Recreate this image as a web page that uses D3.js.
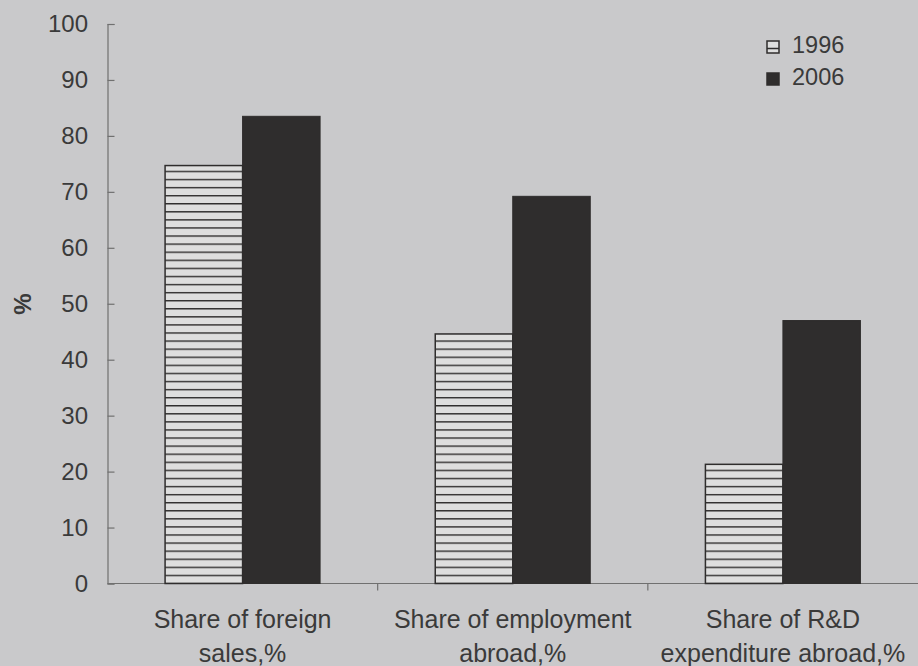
<!DOCTYPE html>
<html>
<head>
<meta charset="utf-8">
<script src="https://cdn.jsdelivr.net/npm/d3@7"></script>
<style>
  body { margin: 0; background: #c9c9cb; }
  svg { display: block; font-family: "Liberation Sans", Arial, sans-serif; }
</style>
</head>
<body>
<div id="chart-area"></div>
<script>
const categories = [
  ["Share of foreign", "sales,%"],
  ["Share of employment", "abroad,%"],
  ["Share of R&D", "expenditure abroad,%"]
];
const years = ["1996", "2006"];
const values1996 = [74.7, 44.6, 21.3];
const values2006 = [83.5, 69.2, 47.0];
const yTicks = [0, 10, 20, 30, 40, 50, 60, 70, 80, 90, 100];

const WIDTH = 918, HEIGHT = 666;
const MARGIN = { LEFT: 107.5, RIGHT: 0, TOP: 24, BOTTOM: 82.5 };
const TEXT = "#3a3a3a";
const AXIS = "#707070";
const DARK = "#2f2d2d";
const LIGHT = "#dedede";

const svg = d3.select("#chart-area").append("svg")
  .attr("width", WIDTH)
  .attr("height", HEIGHT);

const x = d3.scaleBand()
  .domain(d3.range(categories.length))
  .range([MARGIN.LEFT, WIDTH - MARGIN.RIGHT])
  .paddingInner(0).paddingOuter(0);

const y = d3.scaleLinear()
  .domain([0, 100])
  .range([HEIGHT - MARGIN.BOTTOM, MARGIN.TOP]);

const barW = 77.5;

// horizontal hatch pattern
const defs = svg.append("defs");
const pat = defs.append("pattern")
  .attr("id", "hatch")
  .attr("patternUnits", "userSpaceOnUse")
  .attr("width", 10)
  .attr("height", 8.08)
  .attr("patternTransform", `translate(0, ${y(0) - 0.7})`);
pat.append("rect").attr("width", 10).attr("height", 8.08).attr("fill", LIGHT);
pat.append("rect").attr("width", 10).attr("height", 1.4).attr("fill", DARK);

// y axis
const yAxis = d3.axisRight(y).tickValues(yTicks).tickSize(7).tickFormat("");
const gy = svg.append("g")
  .attr("transform", `translate(${MARGIN.LEFT}, 0)`)
  .call(yAxis);
gy.select(".domain").attr("stroke", AXIS).attr("stroke-width", 1.2);
gy.selectAll(".tick line").attr("stroke", AXIS).attr("stroke-width", 1.2);

svg.append("g").selectAll("text")
  .data(yTicks)
  .join("text")
  .attr("x", 88)
  .attr("y", d => y(d))
  .attr("dy", "0.35em")
  .attr("text-anchor", "end")
  .attr("font-size", 24)
  .attr("fill", TEXT)
  .text(d => d);

// x axis
svg.append("line")
  .attr("x1", MARGIN.LEFT).attr("x2", WIDTH)
  .attr("y1", y(0)).attr("y2", y(0))
  .attr("stroke", AXIS).attr("stroke-width", 1.2);

svg.append("g").selectAll("line")
  .data(d3.range(1, categories.length))
  .join("line")
  .attr("x1", d => x(d)).attr("x2", d => x(d))
  .attr("y1", y(0)).attr("y2", y(0) + 7)
  .attr("stroke", AXIS).attr("stroke-width", 1.2);

// bars
const groups = svg.append("g").selectAll("g")
  .data(categories.map((c, i) => ({ i, v1: values1996[i], v2: values2006[i] })))
  .join("g");

groups.append("rect")
  .attr("x", d => x(d.i) + x.bandwidth() / 2 - barW)
  .attr("y", d => y(d.v1))
  .attr("width", barW)
  .attr("height", d => y(0) - y(d.v1))
  .attr("fill", "url(#hatch)")
  .attr("stroke", DARK)
  .attr("stroke-width", 1.5);

groups.append("rect")
  .attr("x", d => x(d.i) + x.bandwidth() / 2)
  .attr("y", d => y(d.v2))
  .attr("width", barW)
  .attr("height", d => y(0) - y(d.v2))
  .attr("fill", DARK)
  .attr("stroke", DARK)
  .attr("stroke-width", 1);

// category labels
const labels = svg.append("g").selectAll("text")
  .data(categories)
  .join("text")
  .attr("text-anchor", "middle")
  .attr("font-size", 25)
  .attr("fill", TEXT);
labels.append("tspan")
  .attr("x", (d, i) => x(i) + x.bandwidth() / 2)
  .attr("y", 628)
  .text(d => d[0]);
labels.append("tspan")
  .attr("x", (d, i) => x(i) + x.bandwidth() / 2)
  .attr("y", 662)
  .text(d => d[1]);

// y label
svg.append("text")
  .attr("transform", "translate(31, 304) rotate(-90)")
  .attr("text-anchor", "middle")
  .attr("font-size", 24)
  .attr("font-weight", "bold")
  .attr("fill", TEXT)
  .text("%");

// legend
const legend = svg.append("g").selectAll("g")
  .data(years)
  .join("g")
  .attr("transform", (d, i) => `translate(767, ${41 + i * 32})`);

legend.append("rect")
  .attr("width", 12).attr("height", 12)
  .attr("fill", (d, i) => i === 0 ? LIGHT : DARK)
  .attr("stroke", DARK)
  .attr("stroke-width", 1.5);
legend.filter((d, i) => i === 0).append("line")
  .attr("x1", 0).attr("x2", 12)
  .attr("y1", 7.5).attr("y2", 7.5)
  .attr("stroke", DARK).attr("stroke-width", 1.5);

legend.append("text")
  .attr("x", 25)
  .attr("y", 12)
  .attr("font-size", 23.5)
  .attr("fill", TEXT)
  .text(d => d);
</script>
</body>
</html>
